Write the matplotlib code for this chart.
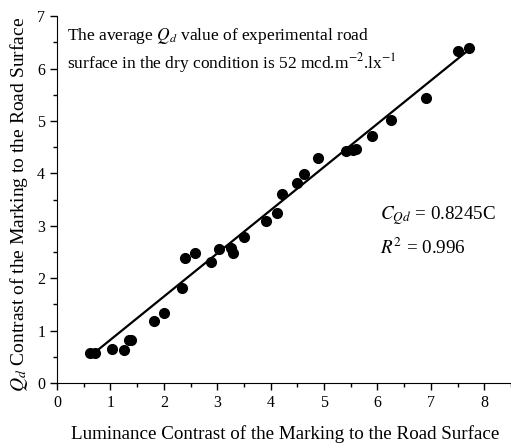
import matplotlib.pyplot as plt
import numpy as np
from matplotlib.ticker import MultipleLocator

plt.rcParams['font.family'] = ['Liberation Serif', 'DejaVu Serif']
plt.rcParams['mathtext.fontset'] = 'stix'

luminance_contrast = [0.61, 0.71, 1.03, 1.26, 1.34, 1.39, 1.81, 2.01, 2.34, 2.40,
                      2.58, 2.89, 3.04, 3.25, 3.30, 3.50, 3.91, 4.11, 4.22, 4.50,
                      4.63, 4.89, 5.41, 5.54, 5.60, 5.90, 6.25, 6.91, 7.50, 7.71]
qd_contrast = [0.57, 0.57, 0.65, 0.63, 0.83, 0.83, 1.18, 1.33, 1.82, 2.39,
               2.48, 2.30, 2.55, 2.58, 2.48, 2.79, 3.09, 3.24, 3.60, 3.82,
               3.99, 4.30, 4.42, 4.44, 4.47, 4.72, 5.01, 5.44, 6.34, 6.40]
slope = 0.8245
fit_range = [0.72, 7.65]

fig = plt.figure(figsize=(5.11, 4.48), dpi=100)
ax = fig.add_axes([0.1115, 0.145, 0.8885, 0.819])

fit_x = np.array(fit_range)
ax.plot(fit_x, slope * fit_x, color='black', linewidth=1.6)
ax.plot(luminance_contrast, qd_contrast, 'o', color='black', markersize=7)

ax.set_xlim(0, 8.5)
ax.set_ylim(0, 7)
ax.xaxis.set_major_locator(MultipleLocator(1))
ax.xaxis.set_minor_locator(MultipleLocator(0.5))
ax.yaxis.set_major_locator(MultipleLocator(1))
ax.yaxis.set_minor_locator(MultipleLocator(0.5))
ax.tick_params(which='major', direction='out', length=5, width=1, labelsize=11.5)
ax.tick_params(which='minor', direction='out', length=3, width=1)
for s in ['top', 'right']:
    ax.spines[s].set_visible(False)

ax.set_xlabel('Luminance Contrast of the Marking to the Road Surface', fontsize=13.7)
ax.xaxis.set_label_coords(0.502, -0.115)
ax.set_ylabel(r'$Q_d$ Contrast of the Marking to the Road Surface', fontsize=14)
ax.yaxis.set_label_coords(-0.060, 0.488)

ax.text(0.19, 6.63, r'The average $Q_d$ value of experimental road', fontsize=12.5, va='center')
ax.text(0.19, 6.11, r'surface in the dry condition is 52 mcd.m$^{-2}$.lx$^{-1}$', fontsize=12.5, va='center')
ax.text(6.04, 3.2, r'$C_{Qd}$ = 0.8245C', fontsize=13.7, va='center')
ax.text(6.04, 2.58, r'$R^2$ = 0.996', fontsize=13.7, va='center')

fig.savefig('out.png', dpi=100)
